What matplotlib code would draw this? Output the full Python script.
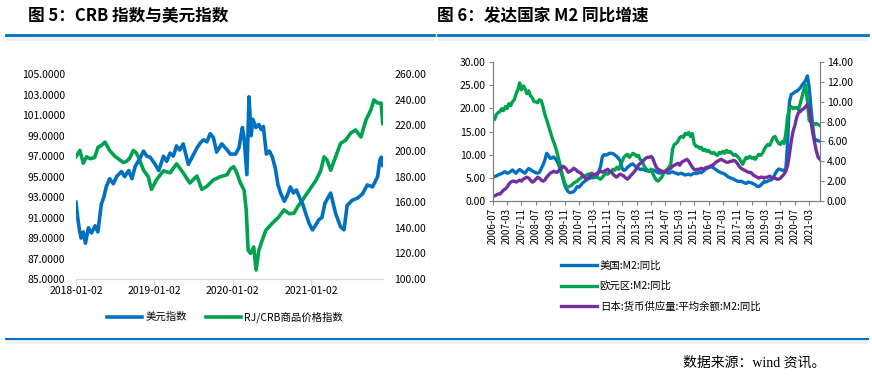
import matplotlib
matplotlib.use('Agg')
import matplotlib.pyplot as plt
import matplotlib.dates as mdates
from matplotlib.lines import Line2D
from matplotlib.patches import Rectangle
import numpy as np
import pandas as pd

plt.rcParams['font.family'] = ['Noto Sans CJK SC', 'DejaVu Sans']

# ---- left chart: USD index vs RJ/CRB ----
usd_dates = ['2018-01-02', '2018-01-10', '2018-01-18', '2018-01-26', '2018-02-05', '2018-02-15', '2018-03-01',
             '2018-03-15', '2018-04-01', '2018-04-14', '2018-04-30', '2018-05-12', '2018-05-23', '2018-06-08',
             '2018-06-25', '2018-07-10', '2018-08-02', '2018-08-17', '2018-09-05', '2018-09-20', '2018-10-05',
             '2018-10-28', '2018-11-13', '2018-11-28', '2018-12-14', '2019-01-06', '2019-01-23', '2019-02-14',
             '2019-03-01', '2019-03-17', '2019-04-01', '2019-04-16', '2019-05-01', '2019-05-17', '2019-06-10',
             '2019-06-25', '2019-07-20', '2019-08-05', '2019-08-20', '2019-09-05', '2019-09-20', '2019-10-05',
             '2019-10-20', '2019-11-13', '2019-12-08', '2019-12-23', '2020-01-16', '2020-02-01', '2020-02-17',
             '2020-02-25', '2020-03-09', '2020-03-19', '2020-03-29', '2020-04-06', '2020-04-20', '2020-05-04',
             '2020-05-15', '2020-05-25', '2020-06-08', '2020-06-22', '2020-07-06', '2020-07-20', '2020-08-01',
             '2020-08-15', '2020-08-31', '2020-09-14', '2020-09-28', '2020-10-12', '2020-10-26', '2020-11-09',
             '2020-11-25', '2020-12-10', '2020-12-25', '2021-01-09', '2021-01-25', '2021-02-08', '2021-02-22',
             '2021-03-08', '2021-04-04', '2021-04-27', '2021-05-20', '2021-06-05', '2021-06-20', '2021-07-14',
             '2021-08-07', '2021-08-30', '2021-09-22', '2021-10-16', '2021-11-09', '2021-11-19', '2021-11-26',
             '2021-12-03']
usd_vals = [92.5, 91.0, 89.8, 89.0, 89.6, 88.5, 90.0,
            89.5, 90.2, 89.6, 92.3, 93.0, 94.0, 94.8,
            94.3, 95.0, 95.5, 95.0, 95.6, 94.8, 96.0,
            96.8, 97.5, 97.0, 96.9, 96.2, 95.6, 97.0,
            96.5, 97.3, 97.0, 98.0, 97.6, 98.2, 96.2,
            96.8, 97.8, 98.3, 98.6, 98.4, 99.2, 98.8,
            97.4, 98.2, 97.6, 97.2, 97.2, 97.8, 99.8,
            98.8, 95.2, 102.8, 99.0, 100.6, 99.8, 100.1,
            99.6, 99.9, 97.2, 97.5, 96.9, 95.8, 94.2,
            93.3, 92.6, 93.2, 94.0, 93.4, 93.7, 93.0,
            92.3, 91.3, 90.4, 89.8, 90.3, 90.8, 91.0,
            92.4, 93.4, 91.4, 90.1, 89.8, 92.2, 92.7,
            92.9, 93.3, 94.2, 94.0, 95.0, 96.6, 96.9,
            96.1]

crb_dates = ['2018-01-02', '2018-01-20', '2018-02-05', '2018-02-20', '2018-03-10', '2018-03-30', '2018-04-15',
             '2018-05-01', '2018-05-17', '2018-05-29', '2018-06-08', '2018-07-02', '2018-07-26', '2018-08-11',
             '2018-08-26', '2018-09-10', '2018-09-26', '2018-10-08', '2018-10-20', '2018-11-13', '2018-12-05',
             '2018-12-20', '2019-01-14', '2019-02-14', '2019-03-17', '2019-04-16', '2019-05-17', '2019-06-17',
             '2019-07-20', '2019-08-12', '2019-09-05', '2019-10-05', '2019-11-07', '2019-12-08', '2019-12-23',
             '2020-01-08', '2020-01-23', '2020-02-08', '2020-02-25', '2020-03-06', '2020-03-15', '2020-03-26',
             '2020-04-10', '2020-04-21', '2020-05-04', '2020-05-20', '2020-06-05', '2020-07-05', '2020-08-05',
             '2020-08-29', '2020-09-23', '2020-10-15', '2020-11-01', '2020-11-23', '2020-12-25', '2021-01-27',
             '2021-02-17', '2021-03-04', '2021-03-18', '2021-04-04', '2021-04-27', '2021-05-20', '2021-06-13',
             '2021-07-06', '2021-07-29', '2021-08-23', '2021-09-16', '2021-10-08', '2021-10-23', '2021-11-09',
             '2021-11-25', '2021-12-03']
crb_vals = [195.6, 200.5, 190.5, 195.5, 194.0, 195.0, 203.0,
            204.5, 207.0, 203.5, 200.5, 196.0, 193.0, 191.0,
            192.0, 194.5, 200.5, 199.0, 195.5, 185.0, 180.0,
            170.0, 178.0, 184.5, 183.0, 190.0, 183.0, 175.0,
            180.5, 170.0, 172.5, 177.5, 180.0, 181.5, 186.0,
            187.8, 182.5, 175.0, 169.5, 154.0, 122.5, 120.0,
            125.0, 107.0, 122.5, 130.5, 138.0, 143.5, 148.5,
            154.0, 151.0, 151.5, 156.5, 161.5, 169.5, 177.5,
            185.0, 195.5, 193.0, 185.0, 195.5, 206.0, 208.5,
            214.0, 216.5, 211.0, 224.5, 232.0, 240.0, 237.5,
            237.5, 221.5]

left_xticks = ['2018-01-02', '2019-01-02', '2020-01-02', '2021-01-02']

# ---- right chart: M2 yoy, monthly from 2006-07 ----
m2_start = '2006-07'
us_m2 = [5.2, 5.3, 5.4, 5.6, 5.8, 5.9, 6.2, 6.3, 6.0, 6.1, 6.4, 6.7,
         6.3, 6.0, 6.5, 6.8, 6.5, 6.2, 6.0, 6.6, 7.0, 6.8, 6.5, 6.3,
         6.1, 6.0, 6.2, 7.0, 7.8, 8.8, 10.3, 9.8, 9.2, 9.3, 9.5, 9.0,
         8.5, 7.5, 6.3, 5.0, 3.4, 2.6, 2.0, 1.8, 1.9, 2.0, 2.5, 3.1,
         3.0, 3.4, 3.9, 4.2, 4.5, 4.8, 4.9, 5.1, 5.0, 5.3, 5.6, 6.3,
         7.5, 9.6, 10.0, 9.9, 10.1, 10.3, 10.3, 10.2, 9.9, 9.6, 9.2, 8.6,
         7.0, 6.6, 6.8, 7.3, 7.6, 7.9, 8.0, 7.6, 7.3, 7.0, 6.8, 6.9,
         6.8, 6.6, 6.5, 6.4, 6.5, 6.7, 6.6, 6.3, 6.1, 6.0, 6.2, 6.4,
         6.3, 6.1, 6.0, 6.2, 6.3, 6.1, 6.0, 5.8, 5.9, 6.0, 5.8, 5.6,
         5.7, 5.8, 5.6, 5.8, 6.0, 5.9, 6.0, 6.2, 6.1, 6.4, 6.8, 7.0,
         7.2, 7.4, 7.3, 7.1, 6.8, 6.5, 6.3, 6.1, 6.0, 5.8, 5.5, 5.2,
         5.0, 4.9, 4.7, 4.5, 4.3, 4.2, 4.3, 4.1, 3.9, 3.8, 4.1, 4.0,
         3.9, 3.7, 3.5, 3.2, 3.1, 3.4, 3.8, 4.2, 4.1, 4.3, 4.5, 4.6,
         5.0, 5.8, 6.5, 6.9, 6.8, 6.6, 6.7, 6.9, 12.8, 21.4, 23.0, 23.2,
         23.5, 23.7, 24.0, 24.4, 25.0, 25.5, 26.0, 27.0, 24.5, 20.0, 16.0, 13.1,
         13.2, 13.0, 12.9]
euro_m2 = [8.4, 8.2, 8.7, 8.9, 9.0, 9.3, 9.1, 9.5, 9.3, 9.8, 9.6, 10.0,
           10.2, 10.8, 11.2, 11.9, 11.2, 11.6, 11.3, 10.8, 11.1, 10.6, 10.4, 10.0,
           10.0, 9.9, 10.2, 10.1, 9.5, 8.7, 8.2, 7.6, 7.0, 6.4, 5.9, 5.4,
           4.7, 4.0, 3.2, 2.4, 1.8, 1.5, 1.4, 1.5, 1.6, 1.8, 1.9, 2.0,
           2.2, 2.3, 2.5, 2.5, 2.6, 2.7, 2.7, 2.8, 2.6, 2.4, 2.4, 2.3,
           2.2, 2.4, 2.6, 2.8, 2.7, 2.9, 3.0, 3.2, 3.1, 3.4, 3.2, 3.6,
           4.0, 4.4, 4.6, 4.7, 4.4, 4.6, 4.8, 4.7, 4.5, 4.6, 4.2, 4.0,
           3.6, 3.3, 3.1, 3.0, 3.2, 2.8, 2.4, 2.1, 2.0, 2.2, 2.4, 2.8,
           3.0, 3.2, 3.4, 3.7, 5.2, 5.7, 5.8, 6.0, 6.4, 6.5, 6.4, 6.8,
           6.7, 6.9, 6.5, 6.8, 5.8, 5.5, 5.5, 5.3, 5.4, 5.1, 5.2, 5.0,
           5.1, 4.9, 4.8, 4.9, 4.7, 4.6, 4.9, 4.8, 5.0, 4.8, 5.1, 4.9,
           5.0, 4.8, 4.6, 4.7, 4.5, 4.3, 4.0, 3.7, 4.1, 4.4, 4.3, 4.5,
           4.3, 4.4, 4.2, 4.5, 4.7, 4.6, 4.8, 5.2, 5.5, 5.7, 5.6, 6.0,
           6.4, 6.5, 6.1, 5.8, 5.7, 6.0, 5.8, 6.8, 8.5, 9.3, 9.5, 9.3,
           9.4, 9.4, 9.2, 9.8, 10.5, 11.2, 11.7, 10.0, 8.1, 8.0, 7.9, 7.7,
           7.8, 7.7, 7.6]
japan_m2 = [0.5, 0.5, 0.6, 0.7, 0.7, 0.9, 1.1, 1.2, 1.4, 1.7, 1.9, 2.0,
            2.0, 1.9, 2.0, 2.1, 2.0, 2.2, 2.3, 2.4, 2.3, 2.1, 1.9, 2.0,
            2.2, 2.4, 2.3, 2.1, 2.0, 2.1, 2.4, 2.6, 2.8, 2.9, 3.0, 2.9,
            2.9, 3.1, 3.3, 3.5, 3.4, 3.2, 2.9, 3.0, 3.1, 3.3, 3.2, 3.0,
            2.9, 2.8, 2.6, 2.4, 2.2, 2.3, 2.5, 2.7, 2.7, 2.6, 2.8, 2.9,
            3.0, 2.9, 3.0, 3.1, 3.2, 3.0, 2.9, 2.7, 2.5, 2.4, 2.6, 2.7,
            2.6, 2.5, 2.3, 2.2, 2.4, 2.6, 2.8, 3.0, 3.3, 3.6, 3.8, 3.9,
            4.1, 4.3, 4.4, 4.4, 4.5, 4.3, 3.8, 3.4, 3.2, 3.1, 3.0, 2.9,
            3.0, 3.1, 3.2, 3.3, 3.5, 3.6, 3.7, 3.8, 3.6, 3.9, 4.0, 4.1,
            4.2, 4.0, 3.7, 3.4, 3.2, 3.1, 3.2, 3.2, 3.3, 3.2, 3.3, 3.4,
            3.4, 3.5, 3.6, 3.7, 3.9, 4.0, 4.1, 4.2, 4.1, 4.0, 3.9, 3.9,
            4.0, 4.0, 4.1, 4.0, 3.8, 3.5, 3.3, 3.2, 3.1, 3.0, 2.9, 2.9,
            2.8, 2.6, 2.5, 2.4, 2.3, 2.4, 2.4, 2.3, 2.4, 2.4, 2.5, 2.4,
            2.3, 2.3, 2.2, 2.2, 2.3, 2.5, 2.7, 3.0, 3.6, 4.7, 6.0, 7.0,
            7.6, 8.4, 8.9, 9.0, 9.2, 9.3, 9.5, 9.7, 9.3, 8.0, 6.8, 5.9,
            5.0, 4.4, 4.2]

BLUE = '#0070C0'
GREEN = '#00A24F'
PURPLE = '#7030A0'
W, H = 872, 377

fig = plt.figure(figsize=(8.72, 3.77), dpi=100)

def fx(px):
    return px / W

def fy(py):
    return 1 - py / H

# titles
fig.text(fx(28), fy(16), '图 5：CRB 指数与美元指数', fontsize=12, fontweight='bold', va='center', ha='left')
fig.text(fx(437), fy(16), '图 6：发达国家 M2 同比增速', fontsize=12, fontweight='bold', va='center', ha='left')
for x0, x1 in [(6, 434), (438, 868)]:
    fig.add_artist(Rectangle((fx(x0), fy(41)), fx(x1 - x0), 6 / H, transform=fig.transFigure,
                             facecolor='#EDF1F6', edgecolor='none'))
    fig.add_artist(Line2D([fx(x0), fx(x1)], [fy(35), fy(35)], transform=fig.transFigure, color=BLUE, lw=2))
fig.add_artist(Rectangle((fx(6), fy(344)), fx(862), 5 / H, transform=fig.transFigure,
                         facecolor='#EDF1F6', edgecolor='none'))
fig.add_artist(Line2D([fx(6), fx(868)], [fy(339), fy(339)], transform=fig.transFigure, color=BLUE, lw=1.5))
fig.text(fx(683), fy(363), '数据来源：wind 资讯。', fontsize=10, va='center', ha='left',
         family=['Liberation Serif', 'Noto Sans CJK SC'])

# ---- left chart ----
ax1 = fig.add_axes([fx(76), fy(279), fx(383 - 76), (279 - 74.3) / H])
ax1b = ax1.twinx()
l1, = ax1.plot(pd.to_datetime(usd_dates), usd_vals, color=BLUE, lw=2.6, label='美元指数')
l2, = ax1b.plot(pd.to_datetime(crb_dates), crb_vals, color=GREEN, lw=2.6, label='RJ/CRB商品价格指数')
ax1.set_zorder(ax1b.get_zorder() + 1)
ax1.patch.set_visible(False)
ax1.set_ylim(85, 105)
ax1.set_yticks(np.arange(85, 106, 2))
ax1.yaxis.set_major_formatter(matplotlib.ticker.FormatStrFormatter('%.4f'))
ax1b.set_ylim(100, 260)
ax1b.set_yticks(np.arange(100, 261, 20))
ax1b.yaxis.set_major_formatter(matplotlib.ticker.FormatStrFormatter('%.2f'))
ax1.set_xlim(pd.Timestamp('2018-01-02'), pd.Timestamp('2021-12-04'))
ax1.set_xticks(pd.to_datetime(left_xticks))
ax1.set_xticklabels(left_xticks)
for a in (ax1, ax1b):
    for s in ('top', 'left', 'right'):
        a.spines[s].set_visible(False)
    a.spines['bottom'].set_color('#D9D9D9')
    a.tick_params(axis='y', length=0, labelsize=7.5, pad=8)
ax1.tick_params(axis='x', length=4, color='#D9D9D9', labelsize=7.5, pad=1)
fig.legend(handles=[l1, l2], loc='center', bbox_to_anchor=(fx(225), fy(317)), ncol=2, frameon=False,
           fontsize=7.5, handlelength=3.4, handletextpad=0.3, columnspacing=1.8, borderpad=0)

# ---- right chart ----
months = pd.period_range(m2_start, periods=len(us_m2), freq='M').strftime('%Y-%m')
xm = np.arange(len(us_m2))
ax2 = fig.add_axes([fx(492.7), fy(201), fx(820 - 492.7), (201 - 62) / H])
ax2b = ax2.twinx()
r1, = ax2.plot(xm, us_m2, color=BLUE, lw=2.4, label='美国:M2:同比')
r2, = ax2b.plot(xm, euro_m2, color=GREEN, lw=2.4, label='欧元区:M2:同比')
r3, = ax2b.plot(xm, japan_m2, color=PURPLE, lw=2.4, label='日本:货币供应量:平均余额:M2:同比')
ax2.set_xlim(0, len(us_m2) - 1)
ax2.set_ylim(0, 30)
ax2.set_yticks(np.arange(0, 31, 5))
ax2.yaxis.set_major_formatter(matplotlib.ticker.FormatStrFormatter('%.2f'))
ax2b.set_ylim(0, 14)
ax2b.set_yticks(np.arange(0, 15, 2))
ax2b.yaxis.set_major_formatter(matplotlib.ticker.FormatStrFormatter('%.2f'))
tick_idx = xm[::8]
ax2.set_xticks(tick_idx)
ax2.set_xticklabels([months[i] for i in tick_idx], rotation=90, fontsize=7)
for a in (ax2, ax2b):
    a.spines['top'].set_visible(False)
    for s in ('left', 'right', 'bottom'):
        a.spines[s].set_color('#808080')
    a.tick_params(axis='y', length=3, color='#808080', labelsize=7.5, pad=2)
ax2.tick_params(axis='x', length=3, color='#808080', pad=2)
fig.legend(handles=[r1, r2, r3], loc='upper left', bbox_to_anchor=(fx(556), fy(255)), ncol=1, frameon=False,
           fontsize=7.5, handlelength=3.4, handletextpad=0.3, labelspacing=1.0, borderpad=0)

fig.savefig('out.png', dpi=100)
